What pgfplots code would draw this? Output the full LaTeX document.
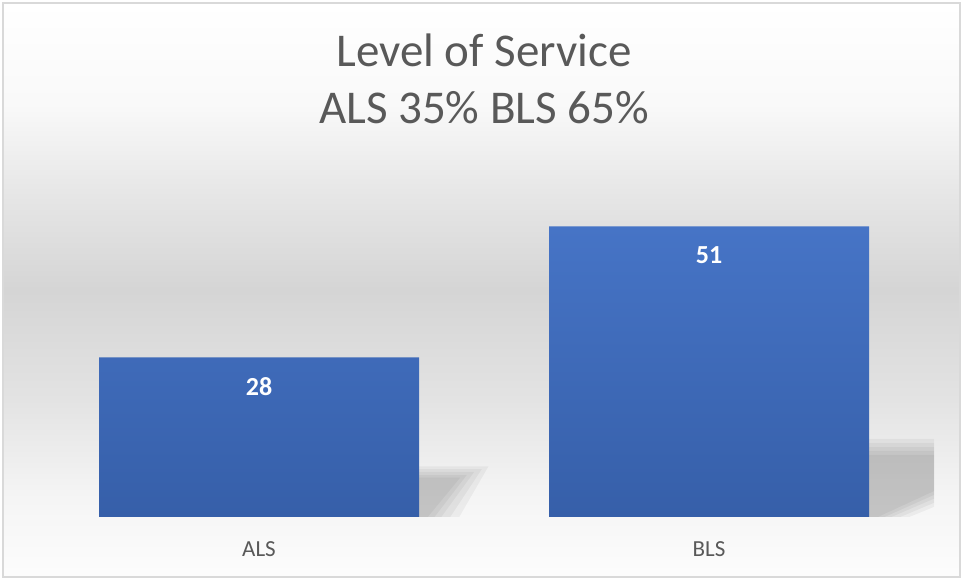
\documentclass[border=0pt]{standalone}
\usepackage{fontspec}
\setmainfont{Carlito}
\usepackage{pgfplots}
\pgfplotsset{compat=1.18}
\definecolor{txt}{HTML}{595959}
\definecolor{bartop}{HTML}{4674C6}
\definecolor{barbot}{HTML}{365FA9}
\definecolor{brd}{HTML}{D9D9D9}
\pgfdeclareverticalshading{bg}{100bp}{color(0bp)=(white); color(25bp)=(white!99!black); color(32bp)=(white!96!black); color(40.5bp)=(white!89!black); color(50bp)=(white!83.5!black); color(58bp)=(white!90!black); color(66bp)=(white!97.5!black); color(75bp)=(white); color(100bp)=(white)}
\pgfplotsset{shadowlayer/.style={draw=none, fill=black, fill opacity=0.045}}
\begin{document}
\begin{tikzpicture}
\useasboundingbox (-34bp,-63bp) rectangle (929bp,517bp);
\fill[white] (-34bp,-63bp) rectangle (929bp,517bp);
\shade[shading=bg] (-31bp,-60bp) rectangle (926bp,514bp);
\draw[brd, line width=1.2bp] (-31bp,-60bp) rectangle (926bp,514bp);
\begin{axis}[
  at={(0,0)}, anchor=south west,
  scale only axis, width=900bp, height=342bp,
  xmin=-0.5, xmax=1.5, ymin=0, ymax=60,
  axis line style={draw=none},
  ytick=\empty,
  xtick={0,1}, xticklabels={ALS,BLS},
  major tick length=0pt,
  tick style={draw=none},
  xticklabel style={anchor=center, yshift=-32bp, text=txt, font=\fontsize{23bp}{27bp}\selectfont},
  /pgf/number format/assume math mode=true,
]
% shadows (soft, layered)
\addplot[shadowlayer] coordinates {(0.3556,0) (0.3556,8.9) (0.510,8.9) (0.445,0)} -- cycle;
\addplot[shadowlayer] coordinates {(0.3556,0) (0.3556,8.4) (0.495,8.4) (0.425,0)} -- cycle;
\addplot[shadowlayer] coordinates {(0.3556,0) (0.3556,7.9) (0.478,7.9) (0.405,0)} -- cycle;
\addplot[shadowlayer] coordinates {(0.3556,0) (0.3556,7.4) (0.462,7.4) (0.39,0)} -- cycle;
\addplot[shadowlayer] coordinates {(0.3556,0) (0.3556,6.9) (0.447,6.9) (0.375,0)} -- cycle;
\addplot[shadowlayer] coordinates {(1.3556,0) (1.3556,13.7) (1.6,13.7) (1.6,5.0) (1.445,0)} -- cycle;
\addplot[shadowlayer] coordinates {(1.3556,0) (1.3556,13.0) (1.6,13.0) (1.6,5.8) (1.425,0)} -- cycle;
\addplot[shadowlayer] coordinates {(1.3556,0) (1.3556,12.3) (1.6,12.3) (1.6,6.6) (1.405,0)} -- cycle;
\addplot[shadowlayer] coordinates {(1.3556,0) (1.3556,11.6) (1.6,11.6) (1.6,7.4) (1.39,0)} -- cycle;
\addplot[shadowlayer] coordinates {(1.3556,0) (1.3556,10.9) (1.6,10.9) (1.6,8.2) (1.375,0)} -- cycle;
% bars
\addplot[ybar, bar width=320bp, draw=none, top color=bartop, bottom color=barbot,
  nodes near coords,
  every node near coord/.append style={anchor=center, yshift=-29bp, text=white, font=\fontsize{26bp}{30bp}\selectfont\bfseries}]
  coordinates {(0,28) (1,51)};
\end{axis}
\node[align=center, text=txt, font=\fontsize{47bp}{57bp}\selectfont] at (450bp,438bp) {Level of Service\\ALS 35\% BLS 65\%};
\end{tikzpicture}
\end{document}
